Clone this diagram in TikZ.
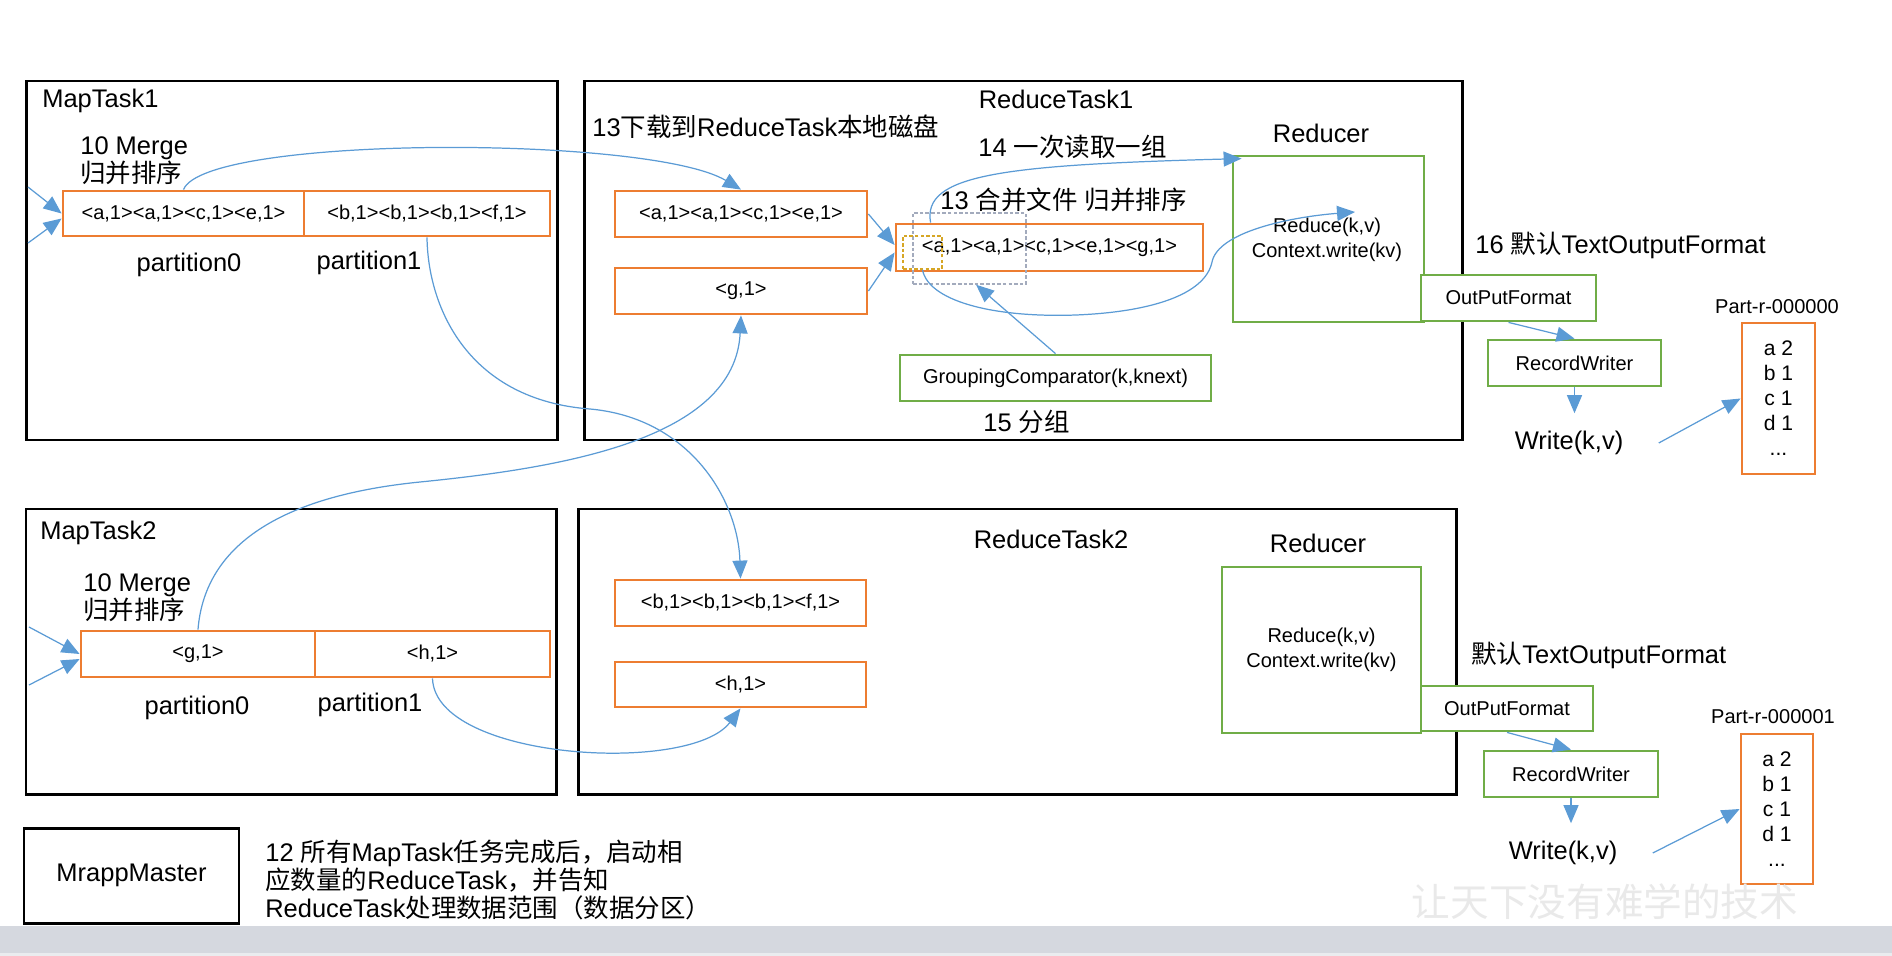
\documentclass[tikz,border=0pt]{standalone}
\usepackage{fontspec}
\setmainfont{Liberation Sans}
\newfontfamily\cjk{Noto Sans CJK SC}
\usepackage{xcolor}
\usepackage{tikz}
\usetikzlibrary{arrows.meta,positioning,calc}
\definecolor{kvorange}{HTML}{ED7D31}
\definecolor{fngreen}{HTML}{70AD47}
\definecolor{flowblue}{HTML}{5B9BD5}
\definecolor{dashgray}{HTML}{A3ABBD}
\definecolor{dashgold}{HTML}{D6A625}
\definecolor{bandgray}{HTML}{D5D8DF}
\definecolor{marklight}{HTML}{E9E9E9}
\newcommand{\lblfont}{\fontsize{14.5pt}{16pt}\selectfont}
\newcommand{\kvfont}{\fontsize{11.4pt}{14.2pt}\selectfont}
\newcommand{\partfont}{\fontsize{12pt}{14.2pt}\selectfont}

\tikzset{
  boxsize/.style 2 args={minimum width=#1*0.02cm, minimum height=#2*0.02cm},
  taskframe/.style={draw=black, line width=1.7pt, inner sep=0pt},
  kvbox/.style={draw=kvorange, line width=1.6pt, fill=white, inner sep=0pt, font=\kvfont},
  fnbox/.style={draw=fngreen, line width=1.6pt, fill=white, inner sep=0pt, font=\kvfont, align=center},
  tag/.style={font=\lblfont, inner sep=0pt},
  dashbox/.style={draw=#1, line width=0.8pt, dash pattern=on 2pt off 1.2pt, inner sep=0pt},
  flow/.style={draw=flowblue, line width=0.7pt, -{Triangle[length=0.36cm,width=0.3cm]}},
  writelbl/.style={font=\lblfont, inner xsep=20pt, inner ysep=10pt},
}

\begin{document}
\begin{tikzpicture}[x=0.02cm, y=-0.02cm]
\useasboundingbox (0,0) rectangle (1892,956);
% grey band at the bottom
\fill[bandgray] (0,926) rectangle (1892,953);
\fill[bandgray!50] (0,953) rectangle (1892,956);

% task frames
\node[taskframe, boxsize={531}{359}] (map1) at (292,260.5) {};
\node[taskframe, boxsize={878}{359}] (red1) at (1023,260.5) {};
\node[taskframe, boxsize={530}{285}] (map2) at (291,651.5) {};
\node[taskframe, boxsize={878}{285}] (red2) at (1017,651.5) {};
\node[taskframe, boxsize={215}{95}, font=\lblfont] (master) at (131.5,875.5) {MrappMaster};

% MapTask1
\node[tag, anchor=west] (map1name) at (42,101) {MapTask1};
\node[tag, anchor=west, align=left] (merge1) at (80,161) {10 Merge\\{\cjk 归并排序}};
\node[kvbox, boxsize={241}{45}] (m1p0) at (183.5,213.5) {<a,1><a,1><c,1><e,1>};
\node[kvbox, boxsize={246}{45}] (m1p1) at (427,213.5) {<b,1><b,1><b,1><f,1>};
\node[tag] (m1p0name) at (189,265) {partition0};
\node[tag] (m1p1name) at (369,263) {partition1};

% MapTask2
\node[tag, anchor=west] (map2name) at (40,533) {MapTask2};
\node[tag, anchor=west, align=left] (merge2) at (83,598) {10 Merge\\{\cjk 归并排序}};
\node[kvbox, boxsize={234}{46}] (m2p0) at (198,654) {<g,1>};
\node[kvbox, boxsize={235}{46}] (m2p1) at (432.5,654) {<h,1>};
\node[tag] (m2p0name) at (197,708) {partition0};
\node[tag] (m2p1name) at (370,705) {partition1};

% ReduceTask1
\node[tag] (red1name) at (1056,99) {ReduceTask1};
\node[tag, anchor=west] (fetch1) at (592,127) {13{\cjk 下载到}ReduceTask{\cjk 本地磁盘}};
\node[kvbox, boxsize={252}{46}] (r1a) at (741,214) {<a,1><a,1><c,1><e,1>};
\node[kvbox, boxsize={252}{46}] (r1b) at (741,291) {<g,1>};
\node[kvbox, boxsize={307}{47}] (r1m) at (1049.5,247.5) {<a,1><a,1><c,1><e,1><g,1>};
\node[dashbox=dashgray, boxsize={113}{71}] (grpwin) at (969.5,248.5) {};
\node[dashbox=dashgold, boxsize={39}{33}] (firstkey) at (922.5,252.5) {};
\node[tag, anchor=west] (readone) at (978,147) {14 {\cjk 一次读取一组}};
\node[tag, anchor=west] (mergefile) at (940,200) {13 {\cjk 合并文件} {\cjk 归并排序}};
\node[fnbox, boxsize={311}{46}] (grp) at (1055.5,378) {GroupingComparator(k,knext)};
\node[tag, anchor=west] (grpname) at (983,422) {15 {\cjk 分组}};
\node[tag] (reducer1name) at (1321,133) {Reducer};
\node[fnbox, boxsize={191}{166}] (reducer1) at (1328.5,239) {};
\node[font=\kvfont, align=center] (rfun1) at (1327,240) {Reduce(k,v)\\Context.write(kv)};
\node[tag, anchor=west] (fmt1) at (1475,245) {16 {\cjk 默认}TextOutputFormat};
\node[fnbox, boxsize={175}{46}] (out1) at (1508.5,298) {OutPutFormat};
\node[fnbox, boxsize={173}{46}] (rw1) at (1574.5,363) {RecordWriter};
\node[writelbl] (write1) at (1569,443) {Write(k,v)};
\node[font=\kvfont] (part1name) at (1777,307) {Part-r-000000};
\node[kvbox, boxsize={73}{151}, align=center, font=\partfont] (part1) at (1778.5,398.5) {a 2\\b 1\\c 1\\d 1\\...};

% ReduceTask2
\node[tag] (red2name) at (1051,539) {ReduceTask2};
\node[kvbox, boxsize={251}{46}] (r2b) at (740.5,603) {<b,1><b,1><b,1><f,1>};
\node[kvbox, boxsize={251}{45}] (r2h) at (740.5,684.5) {<h,1>};
\node[tag] (reducer2name) at (1318,543) {Reducer};
\node[fnbox, boxsize={199}{166}] (reducer2) at (1321.5,650) {Reduce(k,v)\\Context.write(kv)};
\node[tag, anchor=west] (fmt2) at (1471,655) {{\cjk 默认}TextOutputFormat};
\node[fnbox, boxsize={172}{45}] (out2) at (1507,708.5) {OutPutFormat};
\node[fnbox, boxsize={174}{46}] (rw2) at (1571,774) {RecordWriter};
\node[writelbl] (write2) at (1563,853) {Write(k,v)};
\node[font=\kvfont] (part2name) at (1773,717) {Part-r-000001};
\node[kvbox, boxsize={72}{150}, align=center, font=\partfont] (part2) at (1777,809) {a 2\\b 1\\c 1\\d 1\\...};

% MrappMaster note
\node[tag, anchor=west, align=left] (masternote) at (265,880) {12 {\cjk 所有}MapTask{\cjk 任务完成后，启动相}\\{\cjk 应数量的}ReduceTask{\cjk ，并告知}\\ReduceTask{\cjk 处理数据范围（数据分区）}};

% watermark
\node[font=\cjk\fontsize{22pt}{22pt}\selectfont, text=marklight, inner sep=0pt] (mark) at (1605,902) {让天下没有难学的技术};

% inputs of the map tasks
\coordinate (in1a) at (28,187);
\coordinate (in1b) at (28,243);
\coordinate (in2a) at (29,627);
\coordinate (in2b) at (29,685);
\draw[flow] (in1a) -- (m1p0.west);
\draw[flow] (in1b) -- ([yshift=-0.1cm]m1p0.west);
\draw[flow] (in2a) -- (m2p0.west);
\draw[flow] (in2b) -- ([yshift=-0.1cm]m2p0.west);

% copy partitions to the reduce tasks
\draw[flow] (m1p0.north) .. controls (205,135) and (650,135) .. (r1a.north);
\draw[flow] (m2p0.north) .. controls (205,540) and (290,495) .. (420,482) .. controls (560,468) and (735,440) .. (r1b.south);
\draw[flow] (m1p1.south) .. controls (428,310) and (470,400) .. (590,409) .. controls (690,418) and (738,500) .. (r2b.north);
\draw[flow] (m2p1.south) .. controls (435,760) and (690,775) .. (r2h.south);

% merge, group, reduce
\draw[flow] (r1a.east) -- ([yshift=0.05cm]r1m.west);
\draw[flow] (r1b.east) -- ([yshift=-0.1cm]r1m.west);
\draw[flow] ([xshift=0.72cm]r1m.north west) .. controls (922,175) and (1000,165) .. ([xshift=0.2cm,yshift=-0.08cm]reducer1.north west);
\draw[flow] (firstkey.south) .. controls (928,300) and (990,318) .. (1076,315) .. controls (1150,312) and (1205,295) .. (1212,262) .. controls (1218,232) and (1290,217) .. ([xshift=0.56cm]rfun1.north);
\draw[flow] (grp.north) -- ([xshift=0.13cm]grpwin.south);

% output chains
\draw[flow] (out1.south) -- (rw1.north);
\draw[flow] (rw1.south) -- (rw1.south |- write1.north);
\draw[flow] (write1.east) -- (part1.west);
\draw[flow] (out2.south) -- (rw2.north);
\draw[flow] (rw2.south) -- (rw2.south |- write2.north);
\draw[flow] (write2.east) -- (part2.west);
\end{tikzpicture}
\end{document}
